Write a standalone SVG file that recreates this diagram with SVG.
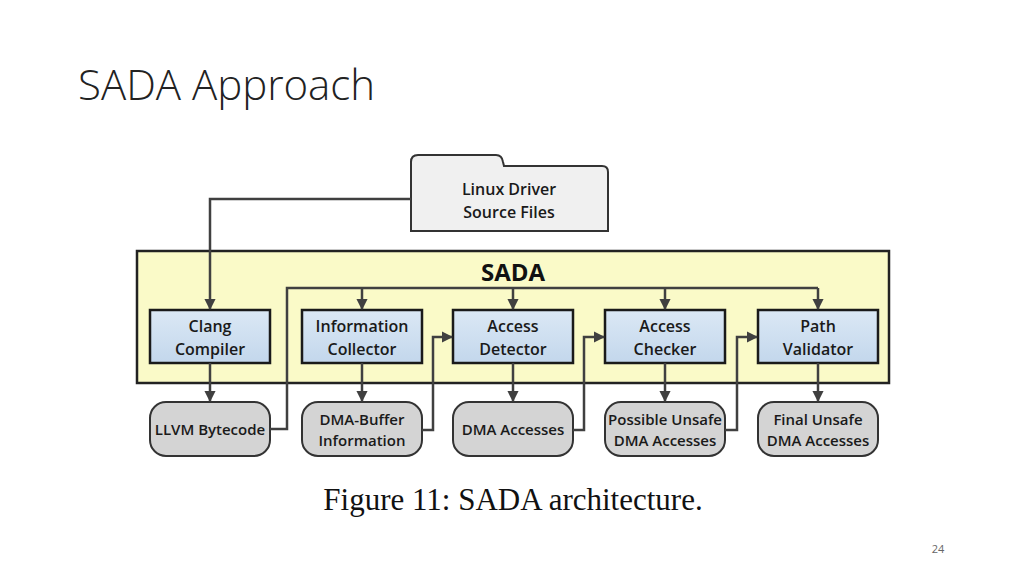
<svg xmlns="http://www.w3.org/2000/svg" width="1024" height="576" viewBox="0 0 1024 576">
<defs>
<marker id="ah" viewBox="0 0 10 10" refX="9" refY="5" markerWidth="4.5" markerHeight="4.5" orient="auto"><path d="M0,0L10,5L0,10z" fill="#404040"/></marker>
<linearGradient id="bg" x1="0" y1="0" x2="0" y2="1"><stop offset="0" stop-color="#dbe8f5"/><stop offset="1" stop-color="#c3d7ec"/></linearGradient>
</defs>
<style>
.p{fill:url(#bg);stroke:#1a1a1a;stroke-width:2.5}
.o{fill:#d4d4d4;stroke:#333;stroke-width:2}
.t{font-family:"Open Sans","Liberation Sans",sans-serif;font-size:16px;font-weight:600;fill:#1a1a1a;text-anchor:middle}
.s{font-size:15px}
.c{fill:none;stroke:#404040;stroke-width:2.5;marker-end:url(#ah)}
</style>
<rect width="1024" height="576" fill="#fff"/>
<text x="78" y="100" font-family="'Open Sans','Liberation Sans',sans-serif" font-size="42" font-weight="300" fill="#222">SADA Approach</text>
<g id="src"><path d="M411,231V162Q411,155 418,155H496Q502,155 503,162L504,166H602Q608,166 608,172V231Z" fill="#f0f0f0" stroke="#333" stroke-width="2"/>
<text class="t" x="509" y="195">Linux Driver</text><text class="t" x="509" y="218">Source Files</text></g>
<g id="sada"><rect x="137" y="251" width="752" height="132" fill="#fafac8" stroke="#222" stroke-width="2.5"/>
<text x="513" y="281" font-family="'Open Sans','Liberation Sans',sans-serif" font-size="24" font-weight="700" text-anchor="middle" fill="#111">SADA</text></g>
<g id="clang"><rect class="p" x="150" y="310" width="120" height="53"/><text class="t" x="210" y="332">Clang</text><text class="t" x="210" y="355">Compiler</text></g>
<g id="info"><rect class="p" x="302" y="310" width="120" height="53"/><text class="t" x="362" y="332">Information</text><text class="t" x="362" y="355">Collector</text></g>
<g id="det"><rect class="p" x="453" y="310" width="120" height="53"/><text class="t" x="513" y="332">Access</text><text class="t" x="513" y="355">Detector</text></g>
<g id="chk"><rect class="p" x="605" y="310" width="120" height="53"/><text class="t" x="665" y="332">Access</text><text class="t" x="665" y="355">Checker</text></g>
<g id="val"><rect class="p" x="758" y="310" width="120" height="53"/><text class="t" x="818" y="332">Path</text><text class="t" x="818" y="355">Validator</text></g>
<g id="llvm"><rect class="o" x="150" y="402" width="120" height="54" rx="16"/><text class="t s" x="210" y="435">LLVM Bytecode</text></g>
<g id="buf"><rect class="o" x="302" y="402" width="120" height="54" rx="16"/><text class="t s" x="362" y="425">DMA-Buffer</text><text class="t s" x="362" y="446">Information</text></g>
<g id="acc"><rect class="o" x="453" y="402" width="120" height="54" rx="16"/><text class="t s" x="513" y="435">DMA Accesses</text></g>
<g id="pos"><rect class="o" x="605" y="402" width="120" height="54" rx="16"/><text class="t s" x="665" y="425">Possible Unsafe</text><text class="t s" x="665" y="446">DMA Accesses</text></g>
<g id="fin"><rect class="o" x="758" y="402" width="120" height="54" rx="16"/><text class="t s" x="818" y="425">Final Unsafe</text><text class="t s" x="818" y="446">DMA Accesses</text></g>
<g id="connectors">
<path class="c" d="M411,199H210V309"/>
<path class="c" d="M210,363V401"/><path class="c" d="M362,363V401"/><path class="c" d="M513,363V401"/><path class="c" d="M665,363V401"/><path class="c" d="M818,363V401"/>
<path fill="none" stroke="#404040" stroke-width="2.5" d="M270,429H287V288H818"/>
<path class="c" d="M362,288V309"/><path class="c" d="M513,288V309"/><path class="c" d="M665,288V309"/><path class="c" d="M818,288V309"/>
<path class="c" d="M422,430H433V337H452"/><path class="c" d="M573,430H584V337H604"/><path class="c" d="M725,430H737V337H757"/>
</g>
<text x="513" y="510" font-family="'Liberation Serif',serif" font-size="31" text-anchor="middle" fill="#111">Figure 11: SADA architecture.</text>
<text x="938" y="553" font-family="'Open Sans','Liberation Sans',sans-serif" font-size="11" text-anchor="middle" fill="#666">24</text>
</svg>
